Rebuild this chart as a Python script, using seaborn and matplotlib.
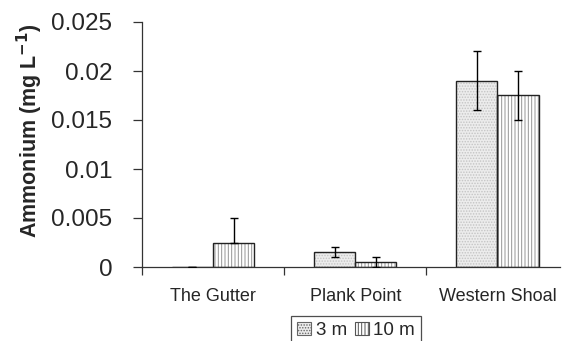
import numpy as np
import pandas as pd
import seaborn as sns
import matplotlib.pyplot as plt
from matplotlib.patches import Rectangle, Patch
from matplotlib.ticker import FixedLocator

# Mean ammonium concentrations (mg/L) by site and depth, with error bars
sites = ["The Gutter", "Plank Point", "Western Shoal"]
depths = ["3 m", "10 m"]
mean_3m = [0.0, 0.0015, 0.019]
mean_10m = [0.0025, 0.0005, 0.0175]
err_lo_3m = [0.0, 0.0005, 0.003]
err_hi_3m = [0.0, 0.0005, 0.003]
err_lo_10m = [0.0, 0.0005, 0.0025]
err_hi_10m = [0.0025, 0.0005, 0.0025]
y_ticks = [0, 0.005, 0.01, 0.015, 0.02, 0.025]
y_tick_labels = ["0", "0.005", "0.01", "0.015", "0.02", "0.025"]

sns.set_style("white")
plt.rcParams["font.family"] = ["Liberation Sans", "DejaVu Sans"]
plt.rcParams["hatch.linewidth"] = 0.7

df = pd.DataFrame({
    "site": sites * 2,
    "depth": [depths[0]] * 3 + [depths[1]] * 3,
    "value": mean_3m + mean_10m,
})

fig = plt.figure(figsize=(5.66, 3.41), dpi=100)
ax = fig.add_axes([142 / 566, 1 - 267 / 341, 418 / 566, 245 / 341])

sns.barplot(data=df, x="site", y="value", hue="depth", order=sites,
            hue_order=depths, errorbar=None, width=0.58, ax=ax,
            legend=False, palette=["#ececec", "#ffffff"])

styles = [
    dict(hatch="......", hatch_col="#c4c4c4"),
    dict(hatch="|||||", hatch_col="#949494"),
]
errs = [(err_lo_3m, err_hi_3m), (err_lo_10m, err_hi_10m)]
means = [mean_3m, mean_10m]

for cont, st, (lo, hi), mv in zip(ax.containers, styles, errs, means):
    xs = []
    for bar in cont:
        bar.set_hatch(st["hatch"])
        bar.set_edgecolor(st["hatch_col"])
        bar.set_linewidth(0)
        ax.add_patch(Rectangle(bar.get_xy(), bar.get_width(), bar.get_height(),
                               fill=False, edgecolor="#222222", linewidth=1.0,
                               zorder=bar.get_zorder() + 0.1))
        xs.append(bar.get_x() + bar.get_width() / 2)
    ax.errorbar(xs, mv, yerr=[lo, hi], fmt="none", ecolor="black",
                elinewidth=1.0, capsize=3, capthick=1.0, zorder=5)

ax.set_ylim(0, 0.025)
ax.set_xlim(-0.5, 2.44)
ax.set_yticks(y_ticks)
ax.set_yticklabels(y_tick_labels)
ax.tick_params(axis="y", which="major", direction="out", length=6.5, width=0.9,
               color="#333333", labelsize=17.5, pad=15, left=True)
ax.xaxis.set_minor_locator(FixedLocator([-0.5, 0.5, 1.5]))
ax.tick_params(axis="x", which="major", length=0, labelsize=13, pad=15)
ax.tick_params(axis="x", which="minor", direction="out", length=6, width=0.9,
               color="#333333", bottom=True)

for s in ["top", "right"]:
    ax.spines[s].set_visible(False)
for s in ["left", "bottom"]:
    ax.spines[s].set_color("#333333")
    ax.spines[s].set_linewidth(0.9)

ax.set_xlabel("")
ax.set_ylabel("Ammonium (mg L$^{\\mathbf{-1}}$)", fontsize=15.5, fontweight="bold")
ax.yaxis.set_label_coords(-0.232, 0.555)

handles = [
    Patch(facecolor="#ececec", edgecolor="#666666", hatch="......", linewidth=0.8),
    Patch(facecolor="#ffffff", edgecolor="#555555", hatch="|||||", linewidth=0.8),
]
leg = fig.legend(handles, depths, loc="upper center",
                 bbox_to_anchor=(356 / 566, 1 - 316 / 341), ncol=2,
                 fontsize=13.5, frameon=True, fancybox=False, handlelength=0.75,
                 handleheight=0.75, handletextpad=0.25, columnspacing=0.4,
                 borderpad=0.3, borderaxespad=0)
leg.get_frame().set_edgecolor("#222222")
leg.get_frame().set_linewidth(0.9)

fig.savefig("out.png", dpi=100)
